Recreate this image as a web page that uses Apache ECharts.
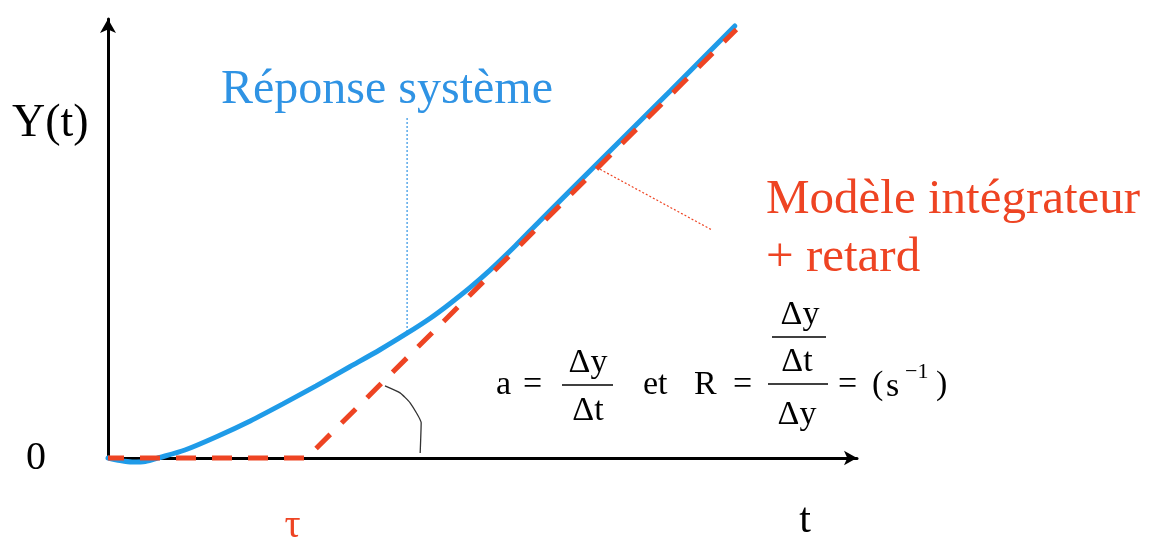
<!DOCTYPE html>
<html>
<head>
<meta charset="utf-8">
<script src="https://cdn.jsdelivr.net/npm/echarts@6/dist/echarts.min.js"></script>
<style>
html, body { margin: 0; padding: 0; background: #ffffff; }
#main { width: 1161px; height: 542px; }
</style>
</head>
<body>
<div id="main"></div>
<script>
// Measured response of the system: time and output
const responseT = [0, 0.24, 0.48, 0.74, 1.03, 1.53, 2.17, 2.83, 3.48, 4.14, 4.81, 5.41, 5.95,
                   6.41, 6.80, 7.20, 7.60, 8.10, 8.59, 9.79, 11.18, 12.47];
const responseY = [0, -0.05, -0.08, -0.07, 0.01, 0.16, 0.43, 0.74, 1.08, 1.44, 1.82, 2.16, 2.49,
                   2.79, 3.08, 3.40, 3.75, 4.23, 4.73, 5.93, 7.32, 8.62];

// Integrator + delay model: zero until the delay tau, then a ramp of slope a
const tau = 3.95;
const modelT = [0, tau, 12.5];
const modelY = [0, 0, 8.55];

// Small hand-drawn arc marking the slope angle of the ramp
const arcT = [5.51, 5.81, 6.01, 6.23, 6.21];
const arcY = [1.44, 1.30, 1.10, 0.70, 0.10];

// Points of each curve where the captions are attached
const responseCallout = [5.95, 2.49];
const modelCallout = [9.75, 5.80];

const BLUE = '#1f9be8';
const RED = '#ee4423';
const SERIF = '"Liberation Serif", "DejaVu Serif", serif';

const zip = (xs, ys) => xs.map((x, i) => [x, ys[i]]);

const chart = echarts.init(document.getElementById('main'), null, { renderer: 'canvas' });

const hiddenAxis = {
  axisTick: { show: false },
  axisLabel: { show: false },
  splitLine: { show: false }
};

chart.setOption({
  animation: false,
  backgroundColor: '#ffffff',
  grid: { left: 108, right: 304, top: 19, bottom: 84 },
  xAxis: Object.assign({
    type: 'value', min: 0, max: 14.9,
    axisLine: {
      show: true, symbol: ['none', 'arrow'], symbolSize: [11, 13],
      lineStyle: { color: '#000', width: 3 }
    }
  }, hiddenAxis),
  yAxis: Object.assign({
    type: 'value', min: 0, max: 8.76,
    axisLine: {
      show: true, symbol: ['none', 'arrow'], symbolSize: [12, 14],
      lineStyle: { color: '#000', width: 3 }
    }
  }, hiddenAxis),
  series: [
    {
      name: 'Réponse système',
      type: 'line',
      data: zip(responseT, responseY),
      smooth: 0.25,
      clip: false,
      showSymbol: false,
      lineStyle: { color: BLUE, width: 5, cap: 'round' },
      z: 3
    },
    {
      name: 'Modèle intégrateur + retard',
      type: 'line',
      data: zip(modelT, modelY),
      clip: false,
      showSymbol: false,
      lineStyle: { color: RED, width: 5, type: [20, 16], dashOffset: 4 },
      z: 4
    },
    {
      name: 'angle',
      type: 'line',
      data: zip(arcT, arcY),
      smooth: 0.15,
      showSymbol: false,
      lineStyle: { color: '#333', width: 1.3 },
      z: 2
    }
  ]
});

// Captions and formula, anchored where needed on the curves
const px = p => chart.convertToPixel({ gridIndex: 0 }, p);
const pResp = px(responseCallout);
const pModel = px(modelCallout);
const pTau = px([tau, 0]);

const txt = (text, x, y, size, color, align) => ({
  type: 'text', x: x, y: y, silent: true,
  style: {
    text: text, font: size + 'px ' + SERIF, fill: color || '#000',
    textAlign: align || 'left', textVerticalAlign: 'middle'
  }
});
const bar = (x1, x2, y) => ({
  type: 'line', silent: true,
  shape: { x1: x1, y1: y, x2: x2, y2: y },
  style: { stroke: '#000', lineWidth: 1.6 }
});

const F = 34;
chart.setOption({
  graphic: [
    // axis captions
    txt('Y(t)', 12, 124, 46, '#000'),
    txt('0', 36, 458, 40, '#000', 'center'),
    txt('t', 805, 521, 42, '#000', 'center'),
    txt('τ', pTau[0] - 14, 526, 40, RED, 'center'),

    // curve captions with dotted leaders
    txt('Réponse système', 221, 90, 48, '#2f93e4'),
    {
      type: 'line', silent: true,
      shape: { x1: pResp[0], y1: 118, x2: pResp[0], y2: pResp[1] },
      style: { stroke: '#2f93e4', lineWidth: 1.2, lineDash: [2, 2] }
    },
    txt('Modèle intégrateur', 766, 200, 49, RED),
    txt('+ retard', 766, 258, 49, RED),
    {
      type: 'line', silent: true,
      shape: { x1: pModel[0] + 2, y1: pModel[1] + 2, x2: 712, y2: 230 },
      style: { stroke: RED, lineWidth: 1.2, lineDash: [2, 2] }
    },

    // a = Δy / Δt
    txt('a', 496, 385, F),
    txt('=', 523, 385, F),
    txt('Δy', 588, 363, F, '#000', 'center'),
    bar(562, 613, 385),
    txt('Δt', 588, 411, F, '#000', 'center'),
    txt('et', 643, 385, F),

    // R = (Δy/Δt) / Δy = (s⁻¹)
    txt('R', 694, 385, F),
    txt('=', 733, 385, F),
    txt('Δy', 800, 315, F, '#000', 'center'),
    bar(772, 826, 337),
    txt('Δt', 797, 362, F, '#000', 'center'),
    bar(768, 828, 384),
    txt('Δy', 797, 415, F, '#000', 'center'),
    txt('=', 838, 385, F),
    txt('(', 872, 385, F),
    txt('s', 886, 387, F),
    txt('−1', 905, 372, 22),
    txt(')', 936, 385, F)
  ]
});
</script>
</body>
</html>
